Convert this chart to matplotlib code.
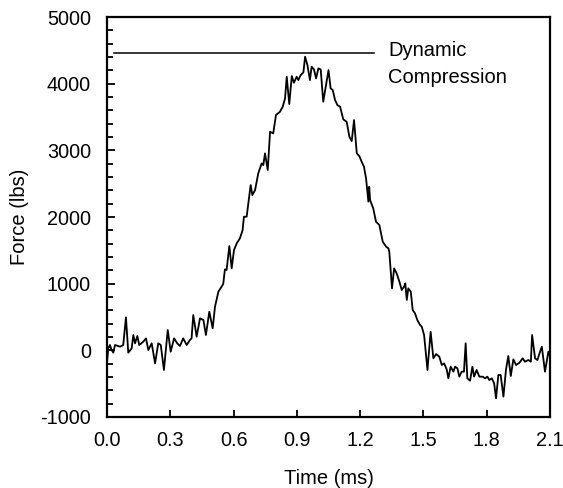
import matplotlib
matplotlib.use("Agg")
import matplotlib.pyplot as plt
from matplotlib.ticker import MultipleLocator

plt.rcParams['font.family'] = ['Liberation Sans', 'DejaVu Sans']
plt.rcParams['axes.unicode_minus'] = False

time_ms = [
    0.000, 0.006, 0.014, 0.022, 0.030, 0.038, 0.062, 0.077, 0.090, 0.101,
    0.117, 0.125, 0.133, 0.144, 0.153, 0.172, 0.185, 0.196, 0.212, 0.228,
    0.243, 0.255, 0.270, 0.288, 0.302, 0.318, 0.333, 0.346, 0.361, 0.378,
    0.393, 0.401, 0.409, 0.425, 0.441, 0.457, 0.469, 0.485, 0.501, 0.512,
    0.528, 0.551, 0.559, 0.567, 0.580, 0.591, 0.602, 0.615, 0.630, 0.643,
    0.649, 0.662, 0.681, 0.689, 0.702, 0.717, 0.733, 0.741, 0.749, 0.762,
    0.773, 0.788, 0.801, 0.820, 0.833, 0.844, 0.852, 0.864, 0.876, 0.886,
    0.899, 0.907, 0.918, 0.931, 0.939, 0.950, 0.962, 0.970, 0.981, 0.991,
    1.002, 1.013, 1.025, 1.041, 1.050, 1.060, 1.070, 1.081, 1.092, 1.105,
    1.120, 1.136, 1.149, 1.160, 1.171, 1.184, 1.196, 1.207, 1.218, 1.228,
    1.239, 1.243, 1.247, 1.262, 1.275, 1.291, 1.307, 1.323, 1.334, 1.338,
    1.351, 1.361, 1.373, 1.386, 1.397, 1.408, 1.414, 1.421, 1.428, 1.440,
    1.449, 1.460, 1.471, 1.484, 1.492, 1.503, 1.519, 1.534, 1.547, 1.560,
    1.575, 1.587, 1.598, 1.610, 1.618, 1.629, 1.642, 1.650, 1.661, 1.670,
    1.681, 1.692, 1.700, 1.708, 1.721, 1.732, 1.740, 1.752, 1.765, 1.781,
    1.792, 1.803, 1.812, 1.824, 1.835, 1.844, 1.855, 1.866, 1.879, 1.891,
    1.902, 1.914, 1.926, 1.939, 1.955, 1.970, 1.981, 1.997, 2.009, 2.015,
    2.029, 2.040, 2.049, 2.061, 2.076, 2.092, 2.100,
]

force_lbs = [
    -195, 30, 80, 5, -35, 80, 55, 80, 495, -35,
    30, 230, 105, 215, 80, 130, 180, 5, 105, -195,
    105, 80, -295, 305, -20, 180, 105, 65, 180, 80,
    155, 180, 530, 205, 480, 455, 230, 580, 330, 655,
    880, 995, 1215, 1205, 1565, 1230, 1505, 1605, 1680, 1805,
    2005, 2005, 2480, 2330, 2405, 2655, 2805, 2780, 2955, 2705,
    3280, 3255, 3530, 3580, 3655, 3780, 4105, 3695, 4115, 4015,
    4105, 4055, 4130, 4170, 4405, 4280, 4055, 4255, 4215, 4080,
    4230, 4215, 3730, 4030, 4205, 3930, 3905, 3755, 3680, 3655,
    3465, 3430, 3205, 3140, 3455, 2955, 2915, 2830, 2755, 2580,
    2230, 2455, 2255, 2130, 1930, 1880, 1630, 1555, 1530, 1480,
    930, 1230, 1155, 1030, 905, 955, 1005, 755, 930, 880,
    605, 555, 455, 380, 355, 230, -295, 280, -120, -55,
    -95, -220, -195, -285, -420, -245, -320, -245, -270, -395,
    -320, -320, 105, -420, -455, -245, -395, -295, -395, -395,
    -420, -395, -445, -420, -495, -720, -370, -370, -695, -295,
    -85, -385, -135, -220, -185, -120, -170, -145, -170, 230,
    -120, -145, -55, 55, -320, -20, -95,
]

peak_level = 4455
peak_line_start = 0.033
peak_line_end = 1.267
annotation = ["Dynamic", "Compression"]

x_ticks = [0.0, 0.3, 0.6, 0.9, 1.2, 1.5, 1.8, 2.1]
x_tick_labels = ["0.0", "0.3", "0.6", "0.9", "1.2", "1.5", "1.8", "2.1"]
y_ticks = [-1000, 0, 1000, 2000, 3000, 4000, 5000]

fig = plt.figure(figsize=(5.63, 4.88), dpi=100)
ax = fig.add_axes([0.190, 0.1455, 0.787, 0.8195])

ax.plot(time_ms, force_lbs, color='black', linewidth=1.3)
ax.plot([peak_line_start, peak_line_end], [peak_level, peak_level],
        color='black', linewidth=1.1)

ax.text(1.332, 4415, annotation[0], fontsize=14.5, ha='left', va='baseline')
ax.text(1.332, 4015, annotation[1], fontsize=14.5, ha='left', va='baseline')

ax.set_xlim(0, 2.1)
ax.set_ylim(-1000, 5000)
ax.set_xticks(x_ticks)
ax.set_xticklabels(x_tick_labels)
ax.set_yticks(y_ticks)
ax.yaxis.set_minor_locator(MultipleLocator(200))

for s in ax.spines.values():
    s.set_linewidth(1.6)

ax.tick_params(axis='x', which='major', direction='in', length=4.7, width=1.3,
               labelsize=14.3, pad=10)
ax.tick_params(axis='y', which='major', direction='in', length=6, width=1.3,
               labelsize=14.3, pad=11.5)
ax.tick_params(axis='y', which='minor', direction='in', length=4.5, width=1.3)

ax.set_xlabel("Time (ms)", fontsize=14.5, labelpad=14)
ax.set_ylabel("Force (lbs)", fontsize=14.5, labelpad=8)

fig.savefig("out.png", dpi=100)
